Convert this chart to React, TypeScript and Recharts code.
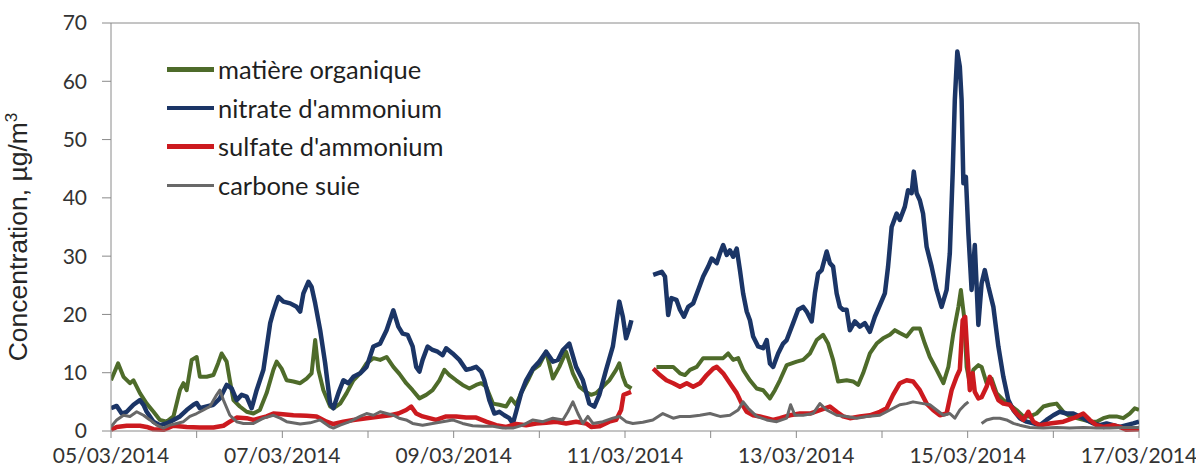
import React from 'react';
import { Line, LineChart, ReferenceLine, XAxis, YAxis } from 'recharts';

// hours since 05/03/2014 00:00, value in µg/m3 (null = missing data)
type Pt = [number, number | null];

const matiereOrganique: Pt[] = [
  [0, 8.7], [2, 11.6], [3.5, 9.3], [5.3, 8.2], [6.3, 8.7], [8.1, 6.5], [10, 4.7], [11.9, 3.3],
  [13.7, 1.9], [15.6, 1.6], [17.5, 2.5], [19.3, 7.0], [20.3, 8.2], [21.2, 7.0], [22.6, 12.2],
  [24, 12.7], [24.9, 9.3], [26.8, 9.3], [28.7, 9.6], [30, 11.6], [31, 13.3], [32.4, 11.9],
  [33.3, 8.7], [34.3, 5.3], [36.1, 4.2], [38, 3.3], [39.9, 3.0], [41.7, 3.6], [43.6, 6.5],
  [45.5, 10.5], [46.4, 11.9], [47.8, 10.7], [49.2, 8.7], [51.1, 8.5], [53, 8.2], [54.8, 9.0],
  [56.2, 9.9], [57.2, 15.6], [58.1, 10.5], [59.5, 7.0], [61.4, 4.2], [62.3, 3.9], [64.2, 4.7],
  [66, 6.5], [67.9, 8.7], [69.8, 9.9], [71.6, 11.6], [73.5, 12.5], [75.4, 12.2], [77.2, 12.7],
  [79.1, 11.0], [80.8, 9.8], [82.7, 8.2], [84.5, 7.0], [86.4, 5.6], [88.3, 6.2], [90.1, 7.0],
  [92, 8.7], [93.4, 10.5], [94.8, 9.6], [96.7, 8.7], [98.5, 7.9], [100.4, 7.3], [102.3, 7.9],
  [103.7, 8.2], [105.1, 7.6], [107, 4.7], [108.8, 4.5], [110.7, 4.2], [112.1, 5.6], [113.5, 4.5],
  [114.9, 6.5], [116.8, 8.7], [118.2, 10.5], [120, 11.3], [121.9, 13.6], [123.8, 9.0],
  [125.6, 11.0], [127.5, 13.6], [129.4, 9.9], [131.2, 7.6], [133.1, 6.7], [134.5, 6.2],
  [135.9, 6.5], [137.8, 7.6], [139.6, 8.7], [141.5, 10.5], [142.4, 11.6], [143.4, 9.3],
  [144.3, 7.9], [145.8, 7.3], [148, null],
  [152.8, 11.0], [155.6, 11.0], [157.5, 11.0], [159.4, 9.9], [160.8, 9.6], [162.2, 10.5],
  [164.1, 11.0], [165.9, 12.5], [168.7, 12.5], [171.5, 12.5], [172.9, 13.3], [174.3, 12.2],
  [175.7, 12.5], [177.1, 10.5], [179, 8.7], [180.9, 7.3], [182.7, 7.0], [184.6, 5.6], [186, 7.0],
  [187.4, 8.7], [189.3, 11.3], [192.1, 11.9], [193.9, 12.2], [195.8, 13.3], [197.7, 15.6],
  [199.5, 16.5], [200.9, 15.0], [202.3, 12.2], [203.7, 8.5], [206.1, 8.7], [207.9, 8.5],
  [209.3, 7.9], [210.7, 9.9], [212.6, 13.3], [214.5, 15.0], [216.3, 15.9], [218.2, 16.5],
  [219.6, 17.3], [221, 16.8], [222.9, 16.2], [224.7, 17.6], [226.6, 17.6], [228, 15.0],
  [229.4, 12.7], [231.3, 10.5], [233.2, 8.2], [234.6, 11.0], [236, 16.8], [237.4, 21.3],
  [238.1, 24.2], [239, 19.6], [239.7, 11.0], [240.6, 8.2], [241.6, 10.5], [243, 11.3],
  [243.9, 11.0], [245.3, 8.2], [246.7, 9.0], [248.1, 6.5], [250, 5.3], [251.8, 4.5], [253.7, 3.6],
  [255.6, 2.5], [257.4, 2.5], [259.3, 3.0], [261.2, 4.2], [263, 4.5], [264.9, 4.7], [266.8, 3.3],
  [268.6, 2.5], [270.5, 2.2], [272.4, 1.9], [274.2, 1.6], [276.1, 1.6], [278, 2.2], [279.8, 2.5],
  [281.7, 2.5], [283.6, 2.2], [285.4, 3.0], [286.8, 3.9], [288, 3.6],
];

const nitrateAmmonium: Pt[] = [
  [0, 3.9], [1.6, 4.3], [3, 3.0], [4.4, 3.3], [6.3, 4.5], [8.1, 5.3], [9.1, 4.5], [10, 3.3],
  [11.9, 1.6], [13.7, 1.0], [15.6, 1.3], [17.5, 1.9], [19.3, 2.5], [21.2, 3.6], [23.1, 4.5],
  [24, 4.8], [24.9, 3.9], [26.8, 4.2], [28.7, 4.5], [30.5, 5.6], [32.4, 7.9], [33.8, 7.3],
  [35.2, 5.3], [36.6, 6.2], [38, 5.9], [39.4, 3.9], [40.8, 7.0], [42.7, 10.5], [44.6, 18.5],
  [45.5, 20.5], [46.9, 23.0], [48.3, 22.2], [50.2, 21.9], [52, 21.3], [53, 20.5], [53.9, 23.6],
  [55.3, 25.6], [56.2, 24.7], [57.2, 21.9], [58.6, 17.3], [60, 11.6], [61.4, 4.7], [62.3, 3.9],
  [63.7, 6.5], [65.1, 8.7], [66.5, 8.2], [67.9, 9.3], [69.8, 9.9], [71.6, 11.0], [73.5, 14.5],
  [75.4, 15.0], [77.2, 17.3], [79.1, 20.7], [80.5, 17.9], [81.7, 16.7], [83.1, 16.5],
  [84.5, 14.5], [85.5, 11.0], [86.4, 10.2], [87.3, 12.2], [88.7, 14.5], [90.1, 13.9],
  [91.5, 13.6], [92.9, 13.0], [93.9, 14.2], [95.7, 13.3], [97.6, 12.2], [99.5, 10.5],
  [100.9, 10.7], [102.3, 11.0], [103.7, 10.2], [104.6, 8.7], [106, 5.3], [107.4, 3.0],
  [108.8, 3.3], [110.2, 2.7], [111.6, 2.2], [112.6, 1.3], [113.5, 3.3], [114.9, 6.5],
  [116.3, 8.7], [118.2, 10.7], [120, 11.9], [121.9, 13.6], [123.8, 11.9], [125.2, 12.2],
  [126.6, 13.9], [128.4, 15.0], [130.3, 11.0], [132.2, 8.7], [134, 4.7], [135.4, 4.2],
  [136.8, 6.2], [138.7, 10.5], [140.6, 14.5], [142.4, 22.2], [143.4, 19.6], [144.3, 15.9],
  [145.2, 17.6], [145.8, 19.0], [148, null],
  [151.9, 26.8], [154.3, 27.3], [155.2, 26.5], [156.1, 19.9], [157, 22.8], [158.4, 22.5],
  [159.4, 20.8], [160.5, 19.6], [161.7, 21.3], [163.1, 21.9], [164.5, 24.2], [165.9, 26.5],
  [167.3, 28.2], [168.3, 29.6], [169.7, 28.8], [170.6, 30.5], [171.5, 31.9], [172.5, 30.2],
  [173.4, 31.0], [174.3, 29.9], [175.3, 31.3], [176.2, 27.6], [177.1, 23.6], [178.1, 20.5],
  [179, 19.0], [179.9, 16.2], [181.3, 14.5], [182.7, 14.2], [183.7, 15.6], [184.6, 11.6],
  [185.5, 11.0], [186.9, 13.3], [188.3, 15.0], [189.3, 15.6], [191.1, 18.5], [192.5, 20.8],
  [193.9, 21.3], [194.9, 20.5], [196.3, 18.8], [197.2, 23.6], [198.1, 27.0], [199.1, 27.6],
  [200.5, 30.8], [201.4, 28.8], [202.3, 28.2], [203.3, 23.6], [204.2, 21.3], [205.1, 20.8],
  [206.1, 20.8], [207, 17.3], [208.4, 18.8], [209.8, 17.9], [211.2, 18.5], [212.6, 17.0],
  [214, 19.6], [215.4, 21.6], [216.8, 23.6], [217.7, 28.2], [218.7, 35.0], [220.1, 37.3],
  [221, 36.2], [222.4, 38.5], [223.3, 41.3], [224.3, 40.8], [224.9, 44.5], [225.7, 40.8],
  [226.6, 39.6], [227.5, 37.3], [228.5, 31.6], [229.9, 28.2], [231.3, 24.2], [232.7, 21.3],
  [234.1, 24.2], [235, 30.5], [235.8, 44.2], [236.4, 56.8], [237.1, 65.1], [237.8, 62.5],
  [238.3, 56.8], [238.8, 42.5], [239.5, 43.6], [240.2, 33.9], [241.1, 24.2], [242, 31.9],
  [243, 18.2], [243.9, 25.3], [244.8, 27.6], [245.8, 24.8], [247.2, 21.3], [248.6, 14.5],
  [250, 9.3], [251.4, 5.3], [252.8, 3.6], [254.6, 2.2], [256.5, 1.6], [258.4, 1.3], [260.2, 1.0],
  [262.1, 1.9], [264, 2.7], [265.8, 3.3], [267.7, 3.0], [269.6, 3.0], [271.4, 2.5], [273.3, 1.9],
  [275.2, 1.3], [277, 1.0], [278.9, 1.3], [280.8, 1.0], [282.6, 0.7], [284.5, 1.0], [286.4, 1.3],
  [288, 1.6],
];

const sulfateAmmonium: Pt[] = [
  [0, 0.2], [1.6, 0.7], [4.4, 0.9], [8.1, 0.9], [10, 0.7], [11.9, 0.3], [14.7, 0.2], [17.5, 0.9],
  [21.2, 0.7], [24.9, 0.6], [28.7, 0.6], [31.5, 0.9], [33.3, 1.6], [35.2, 2.3], [38, 2.2],
  [39.9, 1.9], [41.7, 2.2], [43.6, 2.5], [45.5, 3.0], [47.4, 2.9], [51.1, 2.7], [54.8, 2.6],
  [57.6, 2.5], [60.4, 1.6], [62.3, 1.2], [65.1, 1.6], [67.9, 1.9], [71.6, 2.2], [75.4, 2.5],
  [78.2, 2.7], [80.5, 3.0], [82.7, 3.6], [84.1, 4.2], [85.5, 3.0], [87.3, 2.5], [89.2, 2.2],
  [91.1, 1.9], [93.9, 2.5], [96.7, 2.5], [99.5, 2.3], [102.3, 2.3], [105.1, 1.6], [107.9, 1.0],
  [110.7, 0.7], [113.5, 1.2], [116.3, 1.0], [119.1, 1.3], [121.9, 1.4], [124.7, 1.6],
  [127.5, 1.3], [130.3, 1.6], [133.1, 1.3], [134.5, 0.7], [136.8, 0.8], [139.6, 1.6],
  [141.5, 1.9], [142.9, 3.6], [143.6, 6.2], [145.7, 6.7], [148, null],
  [151.9, 10.7], [153.8, 9.6], [155.6, 8.7], [157.5, 8.2], [159.4, 7.6], [161.3, 8.2],
  [163.1, 7.6], [165, 8.2], [166.9, 9.6], [168.7, 10.7], [169.7, 11.0], [171.5, 9.9],
  [173.4, 8.2], [175.3, 6.5], [176.7, 4.7], [178.1, 3.3], [179.9, 2.7], [181.8, 2.5],
  [183.7, 2.2], [185.5, 1.9], [187.4, 2.2], [190.2, 2.7], [193, 3.0], [195.8, 3.0], [198.6, 3.6],
  [201.4, 4.2], [203.3, 3.3], [205.1, 2.5], [207, 2.2], [209.8, 2.5], [212.6, 2.7], [215.4, 3.3],
  [217.3, 3.9], [219.1, 6.2], [221, 8.2], [222.9, 8.7], [224.7, 8.5], [226.6, 7.0], [228.5, 4.7],
  [230.3, 3.6], [232.2, 2.7], [234.1, 3.0], [235.5, 7.0], [236.9, 9.3], [237.8, 10.5],
  [238.6, 19.0], [239.3, 19.6], [239.9, 13.3], [240.6, 7.0], [241.4, 9.9], [242, 6.7],
  [243, 5.6], [243.9, 5.8], [245.3, 7.6], [246.2, 9.3], [247.2, 7.3], [248.6, 5.3], [250, 4.7],
  [251.8, 4.5], [253.7, 3.0], [255.6, 1.9], [257, 3.3], [258.4, 1.6], [260.2, 1.0], [263, 1.3],
  [266.8, 1.6], [269.6, 2.2], [272.4, 3.0], [274.2, 1.9], [276.1, 1.0], [278, 0.7], [280.8, 1.0],
  [282.6, 0.7], [284.5, 0.2], [288, 0.3],
];

const carboneSuie: Pt[] = [
  [0, 0.7], [1.6, 1.9], [3.5, 2.7], [5.3, 2.5], [7.2, 3.3], [9.1, 2.7], [10.9, 1.9], [12.8, 1.0],
  [14.7, 0.5], [16.5, 1.0], [18.4, 1.3], [20.3, 1.6], [22.1, 2.5], [24, 3.0], [25.9, 3.6],
  [27.7, 4.2], [29.6, 6.2], [30.5, 7.0], [31.5, 5.3], [33.3, 2.7], [35.2, 1.6], [37.1, 1.3],
  [39.9, 1.3], [42.7, 2.2], [45.5, 2.7], [47.4, 2.2], [49.2, 1.6], [53, 1.2], [55.8, 1.4],
  [58.6, 1.9], [61.4, 0.7], [62.3, 0.5], [64.2, 1.0], [66.9, 1.6], [69.8, 2.5], [71.6, 3.0],
  [73.5, 2.7], [75.4, 3.3], [77.2, 3.0], [79.1, 2.7], [80.7, 2.2], [82.7, 1.9], [84.5, 1.3],
  [87.3, 1.0], [90.1, 1.3], [92.9, 1.6], [95.7, 1.9], [98.5, 1.3], [101.3, 0.9], [104.2, 0.8],
  [107, 0.8], [109.8, 0.5], [112.6, 0.5], [115.4, 1.0], [118.2, 1.9], [121, 1.6], [123.8, 2.2],
  [126.6, 1.9], [128, 3.3], [129.4, 5.0], [130.8, 3.0], [132.2, 1.3], [133.6, 2.5], [135, 1.3],
  [137.8, 1.6], [140.6, 2.2], [142.4, 2.5], [144.3, 1.6], [146.2, 1.3], [149, 1.5], [151.8, 1.9],
  [154.6, 3.0], [157.5, 2.2], [159.4, 2.5], [162.2, 2.5], [165, 2.7], [167.8, 3.0], [170.6, 2.5],
  [173.4, 2.7], [175.7, 3.6], [177.1, 5.0], [178.5, 3.9], [180.9, 2.5], [183.7, 1.9],
  [186.5, 1.6], [189.3, 2.2], [190.4, 4.5], [191.6, 2.7], [193.9, 2.7], [196.7, 3.0],
  [198.6, 4.7], [200.5, 3.6], [203.3, 2.7], [206.1, 2.5], [208.9, 2.2], [211.7, 2.5],
  [215.4, 2.7], [218.2, 3.6], [221, 4.5], [222.9, 4.7], [224.7, 5.0], [227.5, 4.7], [229.4, 4.5],
  [231.3, 3.6], [233.2, 2.7], [235, 3.0], [236.4, 2.2], [237.8, 3.6], [239.2, 4.5], [240.2, 5.0],
  [241.5, null],
  [243.9, 1.3], [245.3, 1.9], [247.2, 2.2], [249, 2.2], [250.9, 1.9], [252.8, 1.3], [254.6, 1.0],
  [257.4, 0.6], [261.2, 0.5], [264.9, 0.6], [268.6, 0.5], [272.4, 0.6], [276.1, 0.5],
  [279.8, 0.5], [283.6, 0.6], [288, 0.6],
];

const xTicks = [0, 24, 48, 72, 96, 120, 144, 168, 192, 216, 240, 264, 288];
const xTickLabels = [
  '05/03/2014', '', '07/03/2014', '', '09/03/2014', '', '11/03/2014', '',
  '13/03/2014', '', '15/03/2014', '', '17/03/2014',
];
const yTicks = [0, 10, 20, 30, 40, 50, 60, 70];

const series = [
  { name: 'matière organique', pts: matiereOrganique, color: '#4e6b2a', width: 4 },
  { name: "nitrate d'ammonium", pts: nitrateAmmonium, color: '#1b3566', width: 4.5 },
  { name: "sulfate d'ammonium", pts: sulfateAmmonium, color: '#cc1a1f', width: 4.5 },
  { name: 'carbone suie', pts: carboneSuie, color: '#686868', width: 3 },
];

const FONT = 'Lato, "Open Sans", sans-serif';
const AXIS = '#8a8a8a';

const toRows = (pts: Pt[]) => pts.map(([h, v]) => ({ h, v }));

function YTitle() {
  return (
    <text
      x={27}
      y={237}
      transform="rotate(-90 27 237)"
      textAnchor="middle"
      fontFamily='"Liberation Sans", Arial, sans-serif'
      fontSize={26.5}
      fill="#262626"
    >
      Concentration, µg/m
      <tspan dy={-10} fontSize={17}>3</tspan>
    </text>
  );
}

function LegendBox() {
  return (
    <div style={{ position: 'absolute', left: 167, top: 50, fontFamily: FONT }}>
      {series.map((s) => (
        <div key={s.name} style={{ height: 38.6, display: 'flex', alignItems: 'center' }}>
          <span
            style={{
              display: 'inline-block',
              width: 47,
              height: s.name === 'carbone suie' ? 3 : 4.5,
              background: s.color,
            }}
          />
          <span style={{ marginLeft: 4, fontSize: 25.5, color: '#1f1f1f', whiteSpace: 'nowrap' }}>
            {s.name}
          </span>
        </div>
      ))}
    </div>
  );
}

export default function App() {
  return (
    <div style={{ position: 'absolute', left: 0, top: 0, width: 1196, height: 470, background: '#fff' }}>
      <LineChart
        width={1196}
        height={470}
        margin={{ top: 23, right: 57, bottom: 9, left: 50 }}
        style={{ overflow: 'visible' }}
      >
        <XAxis
          dataKey="h"
          type="number"
          domain={[0, 288]}
          ticks={xTicks}
          allowDataOverflow
          height={30}
          interval={0}
          tickSize={7}
          tickMargin={10}
          stroke={AXIS}
          tick={{ fill: '#333', fontSize: 21, fontFamily: FONT }}
          tickFormatter={(h: number) => xTickLabels[xTicks.indexOf(h)] ?? ''}
        />
        <YAxis
          type="number"
          domain={[0, 70]}
          ticks={yTicks}
          width={61}
          interval={0}
          tickSize={9}
          tickMargin={15}
          stroke={AXIS}
          tick={{ fill: '#333', fontSize: 21, fontFamily: FONT }}
          label={<YTitle />}
        />
        <ReferenceLine y={70} stroke={AXIS} />
        <ReferenceLine x={288} stroke={AXIS} />
        {series.map((s) => (
          <Line
            key={s.name}
            name={s.name}
            data={toRows(s.pts)}
            dataKey="v"
            type="linear"
            stroke={s.color}
            strokeWidth={s.width}
            strokeLinejoin="round"
            dot={false}
            activeDot={false}
            isAnimationActive={false}
          />
        ))}
      </LineChart>
      <LegendBox />
    </div>
  );
}
